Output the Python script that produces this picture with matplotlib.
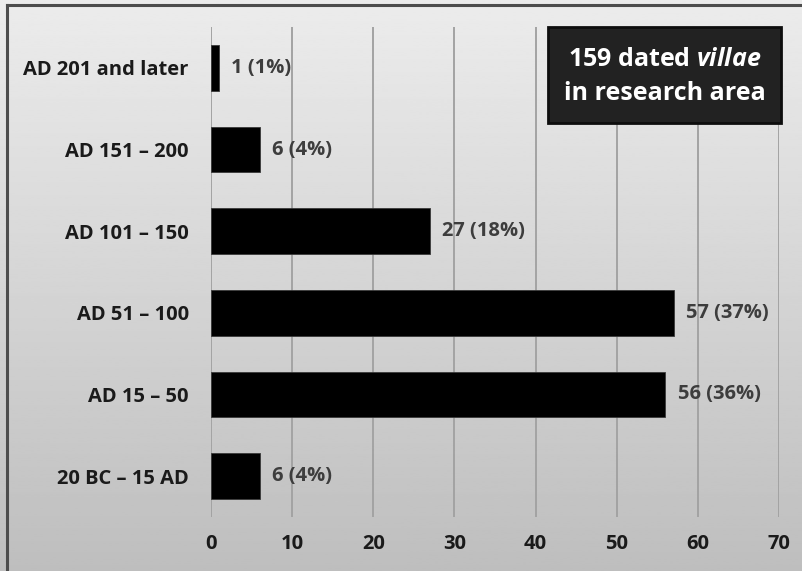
import numpy as np
import matplotlib
matplotlib.use("Agg")
import matplotlib.pyplot as plt
from matplotlib.lines import Line2D
from matplotlib.patches import Rectangle

plt.rcParams['font.family'] = ['Open Sans', 'DejaVu Sans']
plt.rcParams['mathtext.fontset'] = 'custom'
plt.rcParams['mathtext.it'] = 'Open Sans:italic:bold'
plt.rcParams['mathtext.rm'] = 'Open Sans:bold'
plt.rcParams['mathtext.bf'] = 'Open Sans:bold'

periods = ["20 BC – 15 AD", "AD 15 – 50", "AD 51 – 100", "AD 101 – 150",
           "AD 151 – 200", "AD 201 and later"]
counts = [6, 56, 57, 27, 6, 1]
shares = [4, 36, 37, 18, 4, 1]
x_ticks = [0, 10, 20, 30, 40, 50, 60, 70]

W, H = 802, 571
fig = plt.figure(figsize=(W / 100, H / 100), dpi=100)

# vertical grey gradient behind everything
bg = fig.add_axes([0, 0, 1, 1], zorder=-10)
grad = np.linspace(0.925, 0.745, 256).reshape(-1, 1)
bg.imshow(grad, cmap="gray", vmin=0, vmax=1, aspect="auto",
          extent=[0, 1, 0, 1], origin="upper")
bg.set_xlim(0, 1)
bg.set_ylim(0, 1)
bg.axis("off")

# frame lines along top and left edges
fig.add_artist(Line2D([7 / W, 1], [1 - 5 / H, 1 - 5 / H], color="#4d4d4d",
                      lw=2.2, transform=fig.transFigure))
fig.add_artist(Line2D([7 / W, 7 / W], [0, 1 - 5 / H], color="#4d4d4d",
                      lw=2.2, transform=fig.transFigure))

ax = fig.add_axes([211 / W, 1 - 517 / H, (779 - 211) / W, (517 - 27) / H])
ax.patch.set_alpha(0)

y = np.arange(len(periods))
ax.barh(y, counts, height=0.56, color="black", edgecolor="#3a3a3a",
        linewidth=0.6, zorder=3)

for yi, c, s in zip(y, counts, shares):
    ax.text(c + 1.5, yi, f"{c} ({s}%)", va="center", ha="left",
            fontsize=14.5, fontweight="bold", color="#3d3d3d", zorder=4)

ax.set_xlim(0, 70)
ax.set_ylim(-0.5, len(periods) - 0.5)
ax.set_xticks(x_ticks)
ax.set_xticklabels([str(t) for t in x_ticks])
ax.set_yticks(y)
ax.set_yticklabels(periods)
ax.tick_params(axis="both", length=0, labelsize=14.5, labelcolor="#1a1a1a")
ax.tick_params(axis="y", pad=16)
ax.tick_params(axis="x", pad=12)
for lab in ax.get_xticklabels() + ax.get_yticklabels():
    lab.set_fontweight("bold")

ax.xaxis.grid(True, color="#a3a3a3", linewidth=1.4, zorder=0)
ax.yaxis.grid(False)
for sp in ax.spines.values():
    sp.set_visible(False)

# summary box in the upper right
bx0, by0, bx1, by1 = 548, 27, 781, 123
fig.add_artist(Rectangle((bx0 / W, 1 - by1 / H), (bx1 - bx0) / W,
                         (by1 - by0) / H, transform=fig.transFigure,
                         facecolor="#222222", edgecolor="#0d0d0d",
                         linewidth=2, zorder=5))
cx = (bx0 + bx1) / 2 / W
fig.text(cx, 1 - 60 / H, r"159 dated $\mathit{villae}$", ha="center",
         va="center", fontsize=18, fontweight="bold", color="white",
         zorder=6)
fig.text(cx, 1 - 93 / H, "in research area", ha="center", va="center",
         fontsize=18, fontweight="bold", color="white", zorder=6)

fig.savefig("out.png", dpi=100)
